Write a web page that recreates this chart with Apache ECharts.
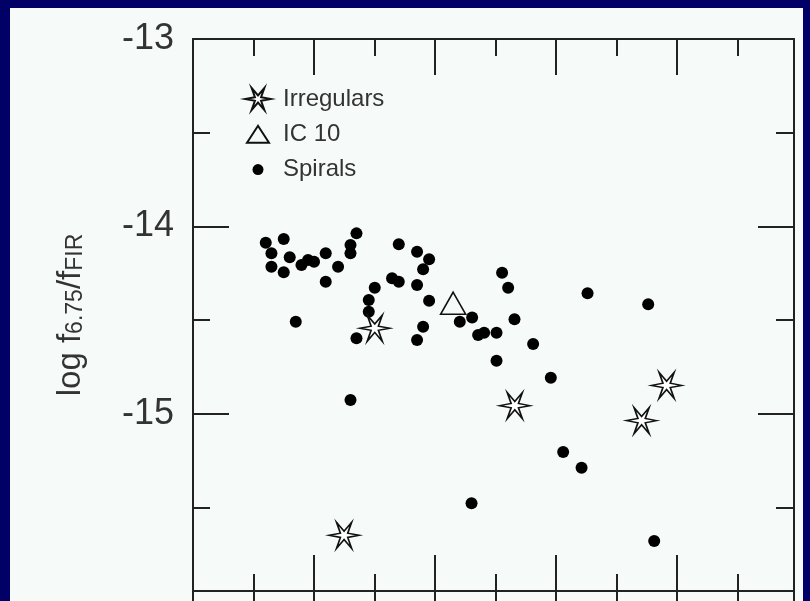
<!DOCTYPE html>
<html><head><meta charset="utf-8">
<script src="https://cdn.jsdelivr.net/npm/echarts@6/dist/echarts.min.js"></script>
<style>html,body{margin:0;padding:0;background:#000066;overflow:hidden}#c{width:810px;height:601px}</style>
</head><body><div id="c"></div>
<script>
// ---- data ----
const seriesNames = ['Irregulars', 'IC 10', 'Spirals'];
const spirals = [
  [1.202,-14.087],[1.499,-14.067],[2.701,-14.037],[1.296,-14.143],[1.598,-14.165],
  [2.602,-14.099],[2.602,-14.143],[2.193,-14.143],[1.901,-14.179],[1.792,-14.206],
  [2.000,-14.188],[1.296,-14.215],[1.499,-14.245],[2.397,-14.215],[2.193,-14.295],
  [3.400,-14.095],[3.702,-14.135],[3.901,-14.175],[3.802,-14.229],[3.289,-14.277],
  [3.400,-14.295],[3.702,-14.312],[3.003,-14.327],[2.904,-14.392],[3.901,-14.396],
  [2.904,-14.455],[1.698,-14.508],[2.701,-14.597],[3.802,-14.535],[3.702,-14.606],
  [4.408,-14.508],[4.612,-14.486],[4.711,-14.579],[2.602,-14.926],[5.107,-14.247],
  [5.207,-14.327],[6.519,-14.357],[7.521,-14.415],[5.312,-14.495],[4.810,-14.567],
  [5.015,-14.567],[5.620,-14.627],[5.015,-14.716],[5.912,-14.807],[6.116,-15.203],
  [6.420,-15.287],[4.602,-15.477],[7.620,-15.678]
];
const irregulars = [[3.003,-14.543],[5.317,-14.956],[7.825,-14.848],[7.412,-15.036],[2.496,-15.648]];
const ic10 = [[4.298,-14.410]];
const yLabelValues = [-13, -14, -15];
const yMajorTicks = [-14, -15];
const yMinorTicks = [-13.5, -14.5, -15.5];
const xMajorTicks = [2, 4, 6, 8];
const xMinorTicks = [1, 3, 5, 7, 9];
const xRange = [0, 9.93];
const yRange = [-15.945, -13];

// ---- styling helpers ----
function starPath(R, r) {
  const h = R * Math.sin(Math.PI / 3);
  let d = '';
  for (let k = 0; k < 12; k++) {
    const a = k * Math.PI / 6;
    const rad = k % 2 === 0 ? R : r;
    d += (k ? 'L' : 'M') + (R + rad * Math.cos(a)).toFixed(2) + ' ' + (h - rad * Math.sin(a)).toFixed(2) + ' ';
  }
  return 'path://' + d + 'Z';
}
const STAR = starPath(15, 4.2);
const LEG_TRI = 'path://M0 0 M26 22 M2 19.5 L13 2.5 L24 19.5 Z';
const LEG_DOT = 'path://M0 0 M26 22 M7.5 11 A5.5 5.5 0 1 0 18.5 11 A5.5 5.5 0 1 0 7.5 11 Z';

const FONT = 'Liberation Sans, Arial, Helvetica, sans-serif';
const LINE = { color: '#222', width: 2 };
const TICK = { color: '#222', width: 2 };

function xAx(grid, pos, ticks, len, showLine) {
  return {
    type: 'value', gridIndex: grid, position: pos, min: xRange[0], max: xRange[1],
    axisLine: { show: showLine, onZero: false, lineStyle: LINE },
    axisTick: { show: true, inside: true, length: len, customValues: ticks, lineStyle: TICK },
    axisLabel: { show: false }, splitLine: { show: false }
  };
}
function yAx(grid, pos, ticks, len, showLine, extra) {
  return Object.assign({
    type: 'value', gridIndex: grid, position: pos, min: yRange[0], max: yRange[1],
    axisLine: { show: showLine, onZero: false, lineStyle: LINE },
    axisTick: { show: ticks.length > 0, inside: true, length: len, customValues: ticks, lineStyle: TICK },
    axisLabel: { show: false }, splitLine: { show: false }
  }, extra || {});
}
function frameAx(pos) {
  return { type: 'value', gridIndex: 1, position: pos, min: 0, max: 1,
    axisLine: { show: true, onZero: false, lineStyle: LINE }, axisTick: { show: false },
    axisLabel: { show: false }, splitLine: { show: false } };
}

const chart = echarts.init(document.getElementById('c'), null, { renderer: 'canvas' });
chart.setOption({
  backgroundColor: '#000066',
  animation: false,
  textStyle: { fontFamily: FONT },
  graphic: [{ type: 'rect', z: -100, silent: true, shape: { x: 10, y: 8, width: 793, height: 600 }, style: { fill: '#f6fbf9' } }],
  grid: [
    { left: 193, right: 16, top: 39, height: 552, outerBoundsMode: 'none', containLabel: false },
    { left: 193, right: 16, top: 591, height: 200, outerBoundsMode: 'none', containLabel: false }
  ],
  xAxis: [
    xAx(0, 'bottom', xMajorTicks, 36, true),
    xAx(0, 'bottom', xMinorTicks, 17, false),
    xAx(0, 'top', xMajorTicks, 36, true),
    xAx(0, 'top', xMinorTicks, 17, false),
    xAx(1, 'top', xMajorTicks, 36, false),
    xAx(1, 'top', xMinorTicks, 17, false)
  ],
  yAxis: [
    yAx(0, 'left', yMajorTicks, 36, true, {
      axisLabel: { show: true, customValues: yLabelValues, margin: 19, fontSize: 36, color: '#333', fontFamily: FONT },
      name: '{m|log f}{s|6.75}{m|/f}{s|FIR}',
      nameLocation: 'middle', nameRotate: 90, nameGap: 106,
      nameTextStyle: {
        color: '#333', fontFamily: FONT,
        rich: {
          m: { fontSize: 33, lineHeight: 33, verticalAlign: 'top', color: '#333', fontFamily: FONT },
          s: { fontSize: 23, lineHeight: 23, padding: [17, 0, 0, 0], verticalAlign: 'bottom', color: '#333', fontFamily: FONT }
        }
      }
    }),
    yAx(0, 'left', yMinorTicks, 17, false),
    yAx(0, 'right', yMajorTicks, 36, true),
    yAx(0, 'right', yMinorTicks, 18, false),
    frameAx('left'),
    frameAx('right')
  ],
  legend: {
    orient: 'vertical', left: 239, top: 82, itemWidth: 26, itemHeight: 22, itemGap: 11.3,
    textStyle: { fontSize: 24, color: '#333', fontFamily: FONT, padding: [0, 0, 0, 7] },
    data: [
      { name: seriesNames[0], icon: STAR },
      { name: seriesNames[1], icon: LEG_TRI },
      { name: seriesNames[2], icon: LEG_DOT }
    ],
    selectedMode: false
  },
  series: [
    {
      name: seriesNames[2], type: 'scatter', xAxisIndex: 0, yAxisIndex: 0, data: spirals,
      symbol: 'circle', symbolSize: 12, itemStyle: { color: '#000', opacity: 1 }, z: 3
    },
    {
      name: seriesNames[1], type: 'scatter', xAxisIndex: 0, yAxisIndex: 0, data: ic10,
      symbol: 'triangle', symbolSize: [25, 22], itemStyle: { color: 'rgba(255,255,255,0)', borderColor: '#111', borderWidth: 1.6, opacity: 1 }, z: 4
    },
    {
      name: seriesNames[0], type: 'scatter', xAxisIndex: 0, yAxisIndex: 0, data: irregulars,
      symbol: STAR, symbolSize: [30, 26], itemStyle: { color: '#fff', borderColor: '#111', borderWidth: 1.6, opacity: 1 }, z: 5
    }
  ]
});
</script></body></html>
